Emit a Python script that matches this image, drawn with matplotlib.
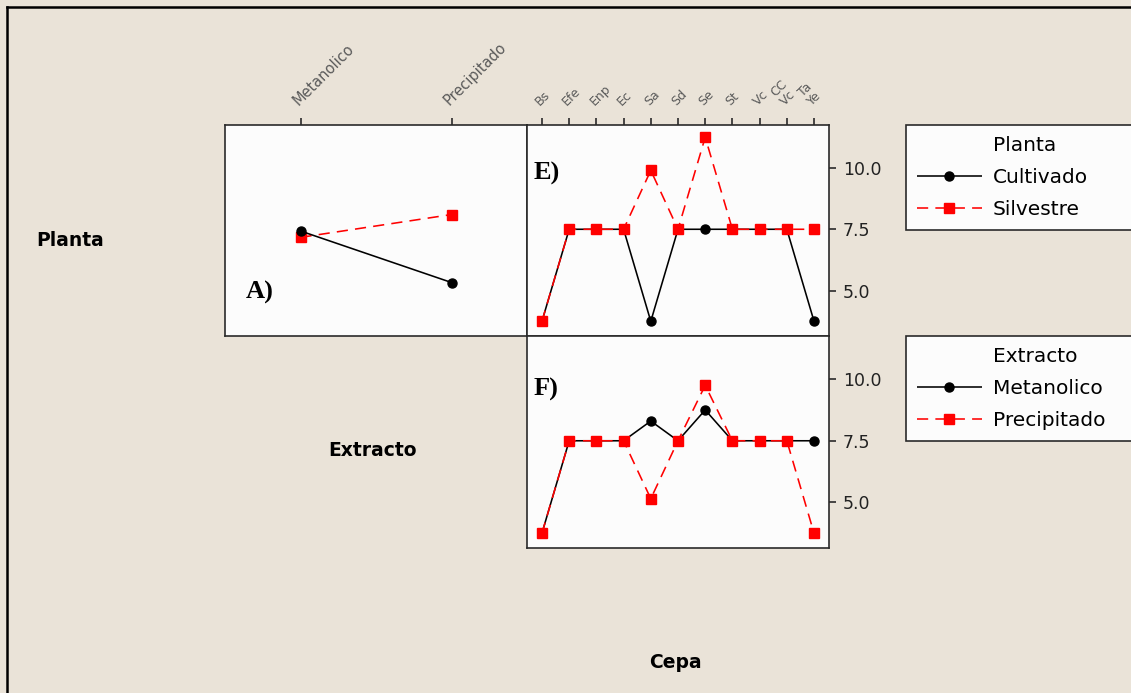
import matplotlib
matplotlib.use("Agg")
import matplotlib.pyplot as plt
from matplotlib.lines import Line2D

# ---- data -------------------------------------------------------------
extract_levels = ["Metanolico", "Precipitado"]
cepa_labels = ["Bs", "Efe", "Enp", "Ec", "Sa", "Sd", "Se", "St", "Vc", "CC\nVc", "Ta\nYe"]
y_ticks = [5.0, 7.5, 10.0]

# A) Planta x Extracto
cultivado_by_extract = [7.43, 5.33]
silvestre_by_extract = [7.17, 8.10]

# E) Planta x Cepa
cultivado_by_cepa = [3.75, 7.5, 7.5, 7.5, 3.75, 7.5, 7.5, 7.5, 7.5, 7.5, 3.75]
silvestre_by_cepa = [3.75, 7.5, 7.5, 7.5, 9.9, 7.5, 11.25, 7.5, 7.5, 7.5, 7.5]

# F) Extracto x Cepa
metanolico_by_cepa = [3.75, 7.5, 7.5, 7.5, 8.3, 7.5, 8.75, 7.5, 7.5, 7.5, 7.5]
precipitado_by_cepa = [3.75, 7.5, 7.5, 7.5, 5.15, 7.5, 9.75, 7.5, 7.5, 7.5, 3.75]

# ---- figure -----------------------------------------------------------
W, H = 1131, 693
BG = "#EAE3D8"
PANEL = "#FCFCFC"
SPINE = "#2a2a2a"
RED = "#FF0000"
YLIM = (3.15, 11.75)

plt.rcParams["font.family"] = ["DejaVu Sans"]
fig = plt.figure(figsize=(W / 100, H / 100), dpi=100, facecolor=BG)


def px_axes(x0, y0, x1, y1):
    return fig.add_axes([x0 / W, 1 - y1 / H, (x1 - x0) / W, (y1 - y0) / H])


def fx(x):
    return x / W


def fy(y):
    return 1 - y / H


black_style = dict(color="black", lw=1.15, marker="o", markersize=6.5,
                   markerfacecolor="black", markeredgecolor="black", solid_capstyle="butt")
red_style = dict(color=RED, lw=1.15, marker="s", markersize=7.5,
                 markerfacecolor=RED, markeredgecolor=RED, dashes=(7, 4.5))


def style_panel(ax):
    ax.set_facecolor(PANEL)
    for s in ax.spines.values():
        s.set_color(SPINE)
        s.set_linewidth(1.2)
    ax.set_ylim(*YLIM)
    ax.tick_params(axis="both", which="both", length=0)
    ax.set_xticks([])
    ax.set_yticks([])


# Panel A
axA = px_axes(225, 125, 527, 336)
style_panel(axA)
xa = range(len(extract_levels))
axA.plot(xa, cultivado_by_extract, **black_style, zorder=3)
axA.plot(xa, silvestre_by_extract, **red_style, zorder=2)
axA.set_xlim(-0.5, 1.5)
axA.xaxis.tick_top()
axA.set_xticks(list(xa))
axA.set_xticklabels(extract_levels, rotation=45, ha="left", va="bottom",
                    rotation_mode="anchor", fontsize=10.5, color="#5a5a5a")
axA.tick_params(axis="x", top=True, length=5, width=1.2, color=SPINE, pad=7)

# Panel E
axE = px_axes(527, 125, 829, 336)
style_panel(axE)
xc = range(len(cepa_labels))
lc, = axE.plot(xc, cultivado_by_cepa, **black_style, zorder=2)
ls, = axE.plot(xc, silvestre_by_cepa, **red_style, zorder=3)
axE.set_xlim(-0.55, 10.55)
axE.xaxis.tick_top()
axE.set_xticks(list(xc))
axE.set_xticklabels(cepa_labels, rotation=45, ha="left", va="bottom",
                    rotation_mode="anchor", fontsize=9, color="#5a5a5a",
                    linespacing=1.0)
axE.tick_params(axis="x", top=True, length=5, width=1.2, color=SPINE, pad=7)

# Panel F
axF = px_axes(527, 336, 829, 548)
style_panel(axF)
lm, = axF.plot(xc, metanolico_by_cepa, **black_style, zorder=2)
lp, = axF.plot(xc, precipitado_by_cepa, **red_style, zorder=3)
axF.set_xlim(-0.55, 10.55)

for ax in (axE, axF):
    ax.yaxis.tick_right()
    ax.set_yticks(y_ticks)
    ax.set_yticklabels([f"{v:.1f}" for v in y_ticks], fontsize=12.5, color="#222222")
    ax.tick_params(axis="y", right=True, length=5, width=1.2, color=SPINE, pad=5)

# Panel letters
letter_font = dict(family=["Liberation Serif", "DejaVu Serif"], fontweight="bold",
                   fontsize=19, color="black")
fig.text(fx(246), fy(299), "A)", va="baseline", ha="left", **letter_font)
fig.text(fx(534), fy(180), "E)", va="baseline", ha="left", **letter_font)
fig.text(fx(534), fy(396), "F)", va="baseline", ha="left", **letter_font)

# Diagonal factor names
name_font = dict(fontweight="bold", fontsize=13.5, color="black", ha="center", va="center")
fig.text(fx(70), fy(241), "Planta", **name_font)
fig.text(fx(372), fy(450), "Extracto", **name_font)
fig.text(fx(675), fy(662), "Cepa", **name_font)


# Legends
def add_legend(title, handles, labels, top):
    blank = Line2D([], [], linestyle="none")
    leg = fig.legend([blank] + handles, [title] + labels, loc="upper left",
                     bbox_to_anchor=(fx(906), fy(top), fx(1131 + 6) - fx(906), 0),
                     mode="expand", borderaxespad=0, fontsize=14.5,
                     handlelength=3.2, handletextpad=0.55, labelspacing=0.65,
                     borderpad=0.55, fancybox=False, framealpha=1,
                     facecolor=PANEL, edgecolor=SPINE)
    leg.get_frame().set_linewidth(1.2)
    return leg


add_legend("Planta", [lc, ls], ["Cultivado", "Silvestre"], 125)
add_legend("Extracto", [lm, lp], ["Metanolico", "Precipitado"], 336)

# Outer frame (left and top edges)
fig.add_artist(Line2D([fx(7), fx(7)], [0, fy(7)], color="black", lw=1.8))
fig.add_artist(Line2D([fx(7), 1], [fy(7), fy(7)], color="black", lw=1.8))

fig.savefig("out.png", dpi=100, facecolor=BG)
